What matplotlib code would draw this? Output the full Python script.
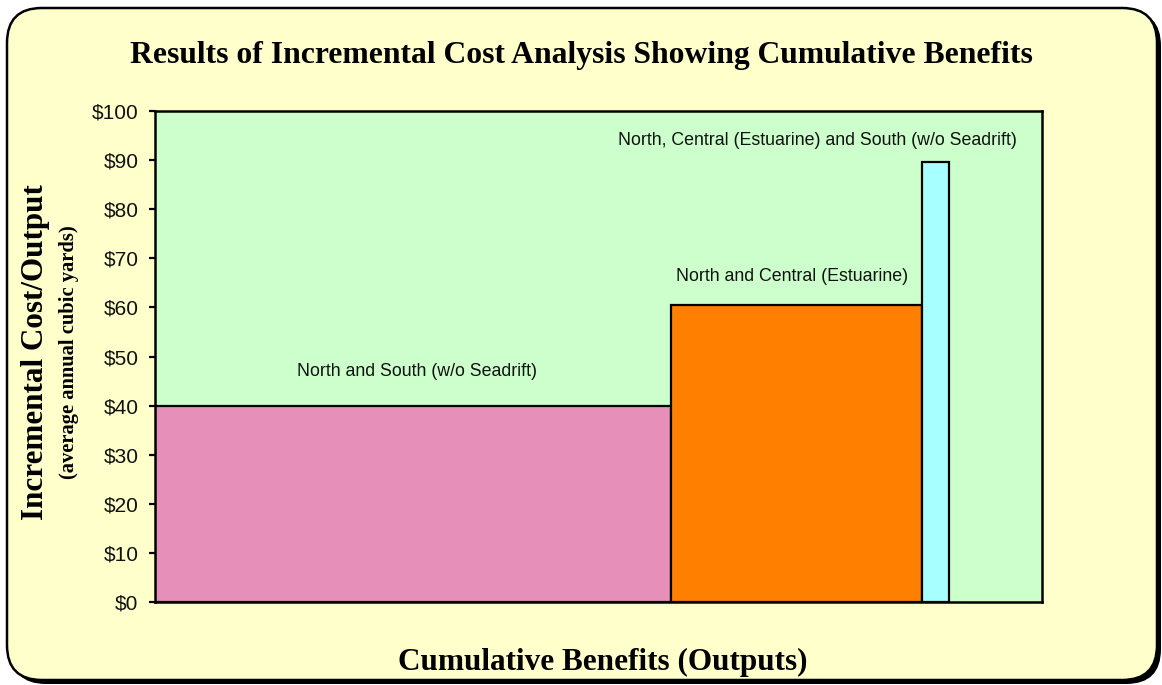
import matplotlib
matplotlib.use("Agg")
import matplotlib.pyplot as plt
from matplotlib.patches import FancyBboxPatch
import numpy as np

# Alternatives: incremental output (width) and incremental cost per output (height)
plans = [
    "North and South (w/o Seadrift)",
    "North and Central (Estuarine)",
    "North, Central (Estuarine) and South (w/o Seadrift)",
]
output_widths = [58.2, 28.3, 3.0]
cost_per_output = [40.0, 60.5, 89.6]
bar_colors = ["#E68FB9", "#FF8000", "#A8FFFF"]
label_y = [47.0, 66.3, 94.0]
label_x = [29.5, 71.8, 74.7]
y_ticks = list(range(0, 101, 10))
y_tick_labels = [f"${v}" for v in y_ticks]

W, H = 1162, 685
fig = plt.figure(figsize=(W / 100, H / 100), dpi=100)
fig.patch.set_facecolor("white")


def fx(px):
    return px / W


def fy(py):
    return 1 - py / H


# Rounded panel with drop shadow, kept beneath the axes
shadow = FancyBboxPatch((fx(11), fy(684)), fx(1150), (684 - 11) / H,
                        boxstyle="round,pad=0,rounding_size=0.03",
                        transform=fig.transFigure, facecolor="black",
                        edgecolor="black", lw=0, mutation_aspect=W / H,
                        zorder=-3)
panel = FancyBboxPatch((fx(7), fy(680)), fx(1150), (680 - 8) / H,
                       boxstyle="round,pad=0,rounding_size=0.03",
                       transform=fig.transFigure, facecolor="#FFFFCC",
                       edgecolor="black", lw=1.8, mutation_aspect=W / H,
                       zorder=-2)
fig.patches.extend([shadow, panel])

ax = fig.add_axes([155 / W, 1 - 602 / H, (1042 - 155) / W, (602 - 111) / H])
ax.set_zorder(1)
ax.set_facecolor("#CCFFCC")

lefts = np.concatenate([[0], np.cumsum(output_widths)[:-1]])
ax.bar(lefts, cost_per_output, width=output_widths, align="edge",
       color=bar_colors, edgecolor="black", linewidth=1.6, zorder=2)

for name, x, y in zip(plans, label_x, label_y):
    ax.text(x, y, name, ha="center", va="center", fontsize=12.8,
            family="Liberation Sans", color="#111111")

ax.set_xlim(0, 100)
ax.set_ylim(0, 100)
ax.set_yticks(y_ticks)
ax.set_yticklabels(y_tick_labels, family="Liberation Sans", fontsize=15,
                   color="#111111")
ax.set_xticks([])
ax.tick_params(axis="y", direction="out", length=4, width=1.6, pad=8)
for s in ax.spines.values():
    s.set_linewidth(1.8)
    s.set_color("black")

fig.text(0.5, 1 - 55 / H, "Results of Incremental Cost Analysis Showing Cumulative Benefits",
         ha="center", va="center", family="Liberation Serif", fontweight="bold",
         fontsize=22.8)
fig.text(603 / W, 1 - 662 / H, "Cumulative Benefits (Outputs)",
         ha="center", va="center", family="Liberation Serif", fontweight="bold",
         fontsize=22.5)
fig.text(36 / W, 1 - 352 / H, "Incremental Cost/Output", rotation=90,
         ha="center", va="center", family="Liberation Serif", fontweight="bold",
         fontsize=22.4)
fig.text(69 / W, 1 - 352 / H, "(average annual cubic yards)", rotation=90,
         ha="center", va="center", family="Liberation Serif", fontweight="bold",
         fontsize=14.8)

fig.savefig("out.png", dpi=100, facecolor=fig.get_facecolor())
